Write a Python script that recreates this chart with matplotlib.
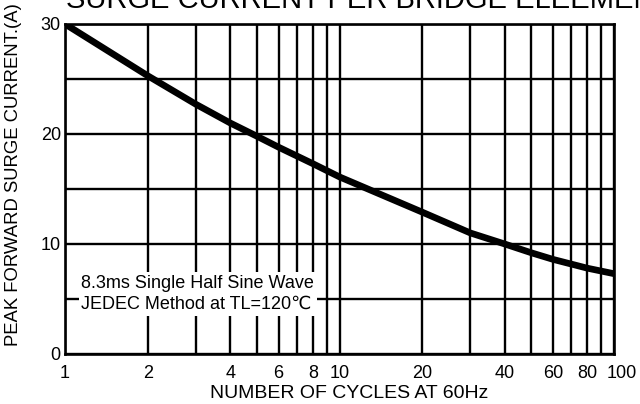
import matplotlib
matplotlib.use("Agg")
import matplotlib.pyplot as plt
import matplotlib.transforms as mtransforms

plt.rcParams['font.family'] = ['Liberation Sans', 'DejaVu Sans']

# Data
cycles = [1, 2, 3, 4, 5, 6, 8, 10, 20, 30, 40, 50, 60, 80, 100]
current = [30, 25.3, 22.7, 21.0, 19.8, 18.8, 17.3, 16.1, 12.9, 11.0, 10.0, 9.2, 8.6, 7.8, 7.3]

x_tick_values = [1, 2, 4, 6, 8, 10, 20, 40, 60, 80, 100]
x_tick_labels = ["1", "2", "4", "6", "8", "10", "20", "40", "60", "80", "100"]
x_minor_values = [3, 5, 7, 9, 30, 50, 70, 90]
y_tick_values = [0, 10, 20, 30]
y_minor_values = [5, 15, 25]

title = "SURGE CURRENT PER BRIDGE ELEEMENT"
xlabel = "NUMBER OF CYCLES AT 60Hz"
ylabel = "PEAK FORWARD SURGE CURRENT.(A)"
note = "8.3ms Single Half Sine Wave\nJEDEC Method at TL=120\u2103"

W, H = 640, 404
fig = plt.figure(figsize=(W / 100, H / 100), dpi=100)
ax = fig.add_axes([65 / W, 1 - 354 / H, (614 - 65) / W, (354 - 24) / H])

ax.set_xscale('log')
ax.set_xlim(1, 100)
ax.set_ylim(0, 30)

ax.set_xticks(x_tick_values)
ax.set_xticklabels(x_tick_labels)
ax.set_xticks(x_minor_values, minor=True)
ax.set_xticklabels([], minor=True)
ax.set_yticks(y_tick_values)
ax.set_yticks(y_minor_values, minor=True)

ax.tick_params(which='both', length=0, labelsize=13, colors='black')
ax.tick_params(axis='x', pad=8)
ax.tick_params(axis='y', pad=3)

ax.grid(True, which='both', color='black', linewidth=1.7)
ax.set_axisbelow(True)
for s in ax.spines.values():
    s.set_linewidth(1.9)
    s.set_color('black')

ax.plot(cycles, current, color='black', linewidth=4.8, solid_capstyle='butt',
        solid_joinstyle='round', zorder=5)

# nudge the last x label right a little like in the original
lbl = ax.get_xticklabels()[-1]
lbl.set_transform(lbl.get_transform() + mtransforms.ScaledTranslation(8 / 100, 0, fig.dpi_scale_trans))

ax.text(0.03, 0.182, note, transform=ax.transAxes, fontsize=13, ha='left', va='center',
        linespacing=1.3, zorder=4,
        bbox=dict(facecolor='white', edgecolor='none', pad=2))

fig.text(349 / W, 1 - 393 / H, xlabel, ha='center', va='center', fontsize=14)
fig.text(14 / W, 1 - 175 / H, ylabel, ha='center', va='center', rotation=90, fontsize=13.3)
fig.text(66 / W, 1 - 8 / H, title, ha='left', va='baseline', fontsize=21)

fig.savefig("out.png", dpi=100)
